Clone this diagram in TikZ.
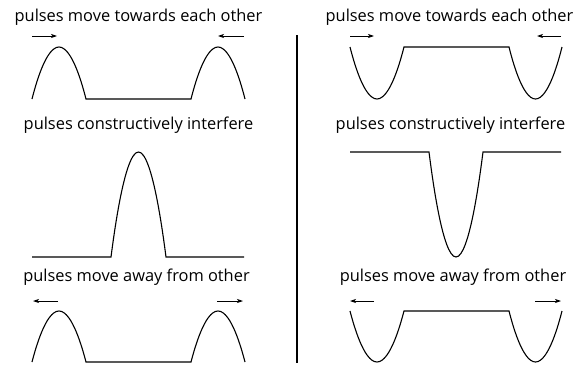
\documentclass[tikz,border=0pt]{standalone}
\usepackage{fontspec}
\setmainfont{Open Sans}
\usetikzlibrary{positioning,arrows.meta}

\begin{document}
\begin{tikzpicture}[x=1pt, y=-1pt, line width=1.1pt, >={Stealth[length=6pt,width=4pt,inset=1.5pt]},
    every node/.style={font=\fontsize{16.4}{18}\selectfont, anchor=base, inner sep=0pt},
    movearrow/.style={->, line width=0.8pt}]
  \useasboundingbox (0,0) rectangle (582,367);
  % left side: crests
  \node (lt) at (138.5,21) {pulses move towards each other};
  \draw[movearrow] (32,36) -- (57,36);
  \draw[movearrow] (244,36) -- (218,36);
  \draw (32,99) parabola bend (59,47) (86,99) -- (191,99) parabola bend (218,47) (245,99);
  \node (lm) at (138.5,129) {pulses constructively interfere};
  \draw (32,257) -- (111,257) parabola bend (138.5,152) (166,257) -- (244,257);
  \node (lb) at (136.5,281) {pulses move away from other};
  \draw[movearrow] (58,301) -- (33,301);
  \draw[movearrow] (217,301) -- (243,301);
  \draw (32,362) parabola bend (59,311) (86,362) -- (191,362) parabola bend (218,311) (245,362);
  % divider
  \draw (297,35) -- (297,363);
  % right side: troughs
  \node (rt) at (449.5,21) {pulses move towards each other};
  \draw[movearrow] (350,36) -- (374,36);
  \draw[movearrow] (561,36) -- (537,36);
  \draw (350,47) parabola bend (377,99) (404,47) -- (509,47) parabola bend (535.5,99) (562,47);
  \node (rm) at (450.5,129) {pulses constructively interfere};
  \draw (350,152) -- (429,152) parabola bend (456,257) (483,152) -- (561,152);
  \node (rb) at (453,281) {pulses move away from other};
  \draw[movearrow] (374,301) -- (350,301);
  \draw[movearrow] (535,301) -- (561,301);
  \draw (350,311) parabola bend (377,362) (404,311) -- (509,311) parabola bend (535.5,362) (562,311);
\end{tikzpicture}
\end{document}
